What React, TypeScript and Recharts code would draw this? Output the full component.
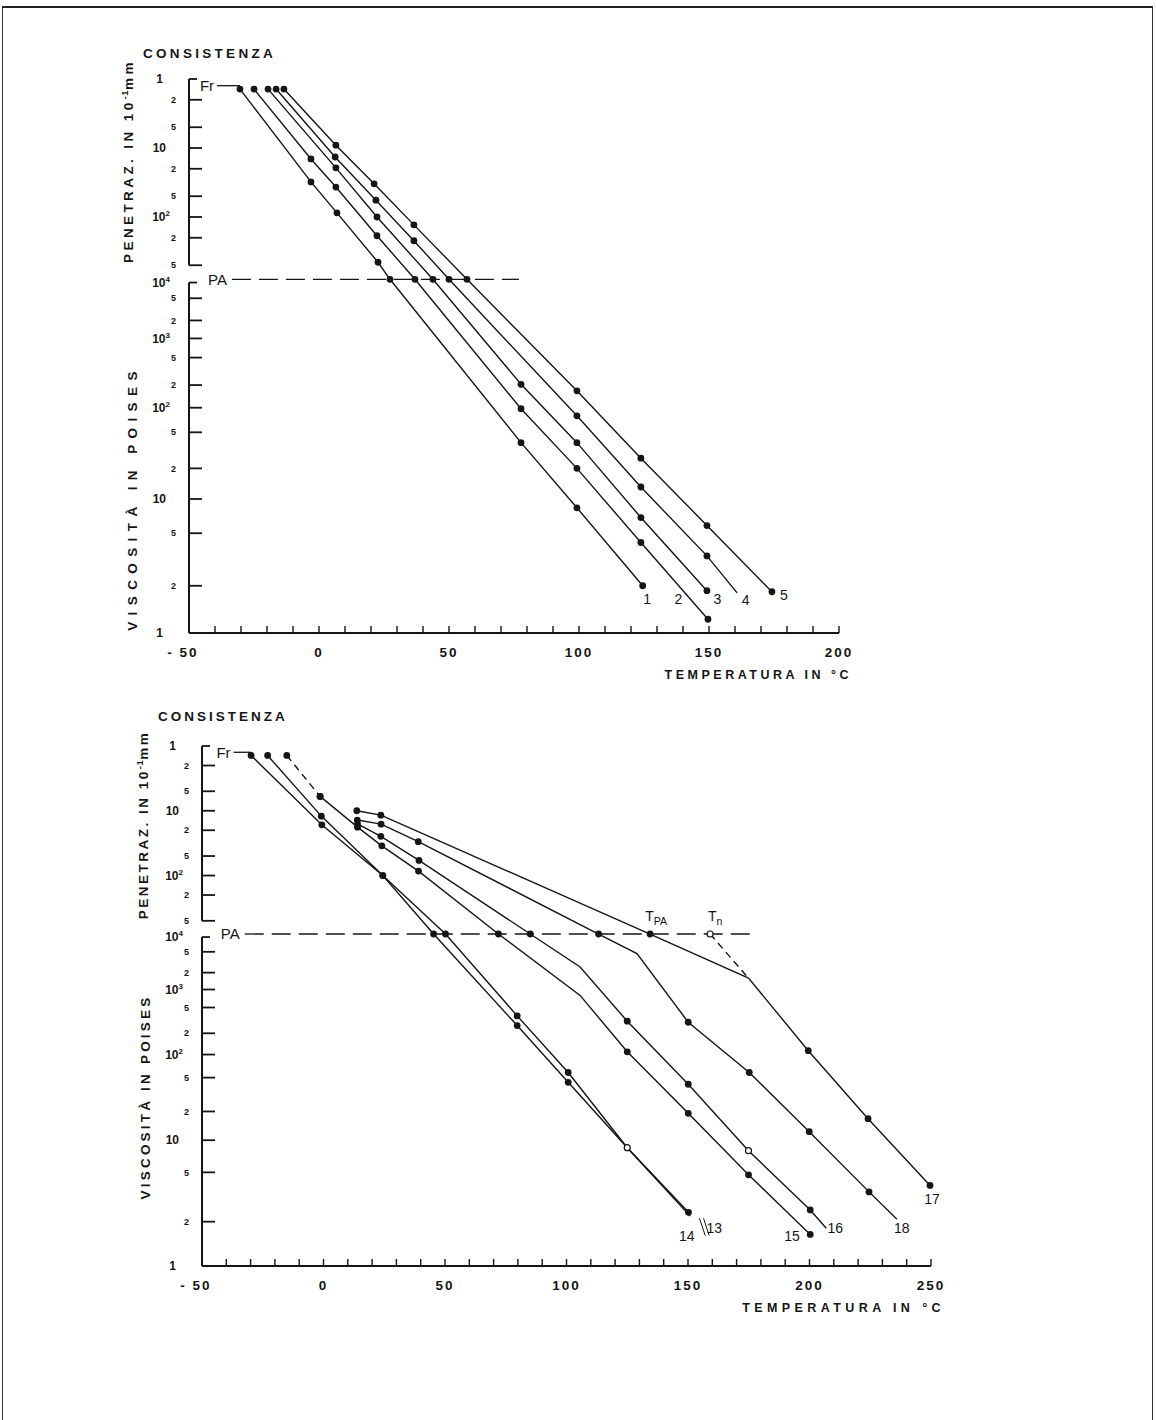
import React from 'react';
import { LineChart, Line, XAxis, YAxis, ReferenceLine, ReferenceDot } from 'recharts';

type Pt = { t: number; pen?: number; visc?: number; mk?: string };
type Ann = { t: number; pen?: number; visc?: number; text: string; sub?: string; size?: number };

// ---------- chart-paper scale: penetration (log) above, viscosity (log-log) below ----------
const U_TOP = 554;
const penToU = (p: number) => U_TOP - 69 * Math.log10(p);
const viscToU = (v: number) => 667 * (Math.log10(Math.log10(v) + 1.7) - Math.log10(1.7));
const toU = (p: { pen?: number; visc?: number }) =>
  p.pen !== undefined ? penToU(p.pen) : viscToU(p.visc as number);

const FR_PEN = 1.25;
const PA_PEN = 800;

const penTickValues = [1, 2, 5, 10, 20, 50, 100, 200, 500];
const penTickLabels = ['1', '2', '5', '10', '2', '5', '10^2', '2', '5'];
const viscTickValues = [1, 2, 5, 10, 20, 50, 100, 200, 500, 1000, 2000, 5000, 10000];
const viscTickLabels = ['1', '2', '5', '10', '2', '5', '10^2', '2', '5', '10^3', '2', '5', '10^4'];

const topXTicks = [-50, -40, -30, -20, -10, 0, 10, 20, 30, 40, 50, 60, 70, 80, 90, 100, 110, 120, 130, 140, 150, 160, 170, 180, 190, 200];
const botXTicks = [...topXTicks, 210, 220, 230, 240, 250];

// ---------- top chart: bitumens 1-5 ----------
const bit1: Pt[] = [
  { t: -30.4, pen: 1.4 }, { t: -3.1, pen: 31 }, { t: 6.9, pen: 87 }, { t: 22.7, pen: 453 }, { t: 27.3, pen: 800 },
  { t: 77.7, visc: 38 }, { t: 99.2, visc: 8.3 }, { t: 124.5, visc: 2.0 },
];
const bit2: Pt[] = [
  { t: -25, pen: 1.4 }, { t: -3.1, pen: 14.4 }, { t: 6.5, pen: 36.8 }, { t: 22.3, pen: 187 }, { t: 36.9, pen: 800 },
  { t: 77.7, visc: 97 }, { t: 99.2, visc: 20 }, { t: 123.8, visc: 4.2 }, { t: 149.6, visc: 1.21 },
];
const bit3: Pt[] = [
  { t: -19.6, pen: 1.4 }, { t: 6.5, pen: 19.4 }, { t: 22.3, pen: 100 }, { t: 43.8, pen: 800 },
  { t: 77.7, visc: 205 }, { t: 99.2, visc: 38 }, { t: 123.8, visc: 6.8 }, { t: 149.2, visc: 1.85 },
];
const bit4: Pt[] = [
  { t: -16.5, pen: 1.4 }, { t: 6.2, pen: 13.5 }, { t: 21.9, pen: 57 }, { t: 36.5, pen: 221 }, { t: 50, pen: 800 },
  { t: 99.2, visc: 79 }, { t: 123.8, visc: 13 }, { t: 149.2, visc: 3.3 }, { t: 160.8, visc: 1.79, mk: '' },
];
const bit5: Pt[] = [
  { t: -13.5, pen: 1.4 }, { t: 6.5, pen: 9.1 }, { t: 21.2, pen: 33 }, { t: 36.5, pen: 130 }, { t: 56.9, pen: 800 },
  { t: 99.2, visc: 167 }, { t: 123.8, visc: 25.6 }, { t: 149.2, visc: 5.8 }, { t: 174.2, visc: 1.82 },
];
const topLabels: Ann[] = [
  { t: 126.2, visc: 1.63, text: '1' }, { t: 138.2, visc: 1.63, text: '2' }, { t: 153.2, visc: 1.63, text: '3' },
  { t: 164.1, visc: 1.6, text: '4' }, { t: 178.8, visc: 1.74, text: '5' },
];

// ---------- bottom chart: bitumens 13-18 ----------
const bit13: Pt[] = [
  { t: -23, pen: 1.4 }, { t: -0.9, pen: 12.1 }, { t: 24.4, pen: 100 }, { t: 50.2, pen: 800 },
  { t: 79.7, visc: 368 }, { t: 100.7, visc: 58 }, { t: 125, visc: 8.45, mk: '' }, { t: 150.9, visc: 2.2, mk: '' },
];
const bit14: Pt[] = [
  { t: -29.8, pen: 1.4 }, { t: -0.7, pen: 16.5 }, { t: 24.4, pen: 100 }, { t: 45.3, pen: 800 },
  { t: 79.7, visc: 261 }, { t: 100.7, visc: 43.7 }, { t: 125, visc: 8.45, mk: 'c' }, { t: 150.2, visc: 2.35 },
];
const bit15Start: Pt[] = [{ t: -15.1, pen: 1.4 }, { t: -1.4, pen: 6.0 }];
const bit15: Pt[] = [
  { t: -1.4, pen: 6.0 }, { t: 14.0, pen: 17.9 }, { t: 24.0, pen: 34.8 }, { t: 39.1, pen: 85.5 }, { t: 72, pen: 800 },
  { t: 105.6, visc: 793, mk: '' }, { t: 125, visc: 109 }, { t: 150.1, visc: 19.1 }, { t: 174.9, visc: 4.76 }, { t: 200.3, visc: 1.62 },
];
const bit16: Pt[] = [
  { t: 14.0, pen: 15.9 }, { t: 23.6, pen: 24.8 }, { t: 39.3, pen: 58.5 }, { t: 85.1, pen: 800 },
  { t: 105.6, visc: 2546, mk: '' }, { t: 125, visc: 304 }, { t: 150.1, visc: 41.4 }, { t: 174.9, visc: 7.9, mk: 'c' },
  { t: 200.3, visc: 2.45 }, { t: 206.9, visc: 1.79, mk: '' },
];
const bit17: Pt[] = [
  { t: 13.7, pen: 10 }, { t: 23.6, pen: 11.7 }, { t: 134.4, pen: 800 }, { t: 174.9, visc: 1586, mk: '' },
  { t: 199.5, visc: 113 }, { t: 224.1, visc: 16.7 }, { t: 249.6, visc: 3.86 },
];
const bit18: Pt[] = [
  { t: 13.9, pen: 13.9 }, { t: 23.7, pen: 16.1 }, { t: 39, pen: 30 }, { t: 113.2, pen: 800 }, { t: 129, visc: 4605, mk: '' },
  { t: 150.1, visc: 293 }, { t: 175.2, visc: 58 }, { t: 199.9, visc: 12.2 }, { t: 224.5, visc: 3.41 }, { t: 236, visc: 2.08, mk: '' },
];
const tnDashed: Pt[] = [{ t: 159.1, pen: 800, mk: 'c' }, { t: 174.9, visc: 1586, mk: '' }];
const botLabels: Ann[] = [
  { t: 149.5, visc: 1.58, text: '14' }, { t: 160.8, visc: 1.81, text: '13' }, { t: 192.8, visc: 1.58, text: '15' },
  { t: 210.6, visc: 1.81, text: '16' }, { t: 238, visc: 1.81, text: '18' }, { t: 250.4, visc: 2.99, text: '17' },
  { t: 136.9, pen: 422, text: 'T', sub: 'PA' }, { t: 161.2, pen: 422, text: 'T', sub: 'n' },
];
const botLeaders: Pt[][] = [
  [{ t: 154.7, visc: 2.12 }, { t: 157.1, visc: 1.59 }],
  [{ t: 156.4, visc: 2.12 }, { t: 158.7, visc: 1.59 }],
];

// ---------- rendering helpers ----------
const FONT = "'Liberation Sans', Arial, 'DejaVu Sans', sans-serif";
const INK = '#151515';

const yTicks = [
  ...viscTickValues.map((v, i) => ({ u: viscToU(v), label: viscTickLabels[i], noLine: i === 0, bracket: i === viscTickValues.length - 1 })),
  ...penTickValues.map((v, i) => ({ u: penToU(v), label: penTickLabels[i], noLine: false, bracket: i === 0 })),
];

const rows = (pts: Pt[]) => pts.map((p) => ({ t: p.t, u: toU(p), mk: p.mk === undefined ? 'o' : p.mk }));

const renderDot = (props: any) => {
  const { cx, cy, payload, index } = props;
  const k = `d${index}-${Math.round(cx)}-${Math.round(cy)}`;
  if (payload.mk === 'o') return <circle key={k} cx={cx} cy={cy} r={3.4} fill={INK} />;
  if (payload.mk === 'c') return <circle key={k} cx={cx} cy={cy} r={3} fill="#fff" stroke={INK} strokeWidth={1.2} />;
  return <g key={k} />;
};

const renderYTick = (props: any) => {
  const { x, y, payload } = props;
  const tk = yTicks.find((t) => Math.abs(t.u - payload.value) < 1e-6);
  if (!tk) return <g />;
  const isPow = tk.label.startsWith('10^');
  const big = tk.label.length > 1;
  const tx = isPow ? x - 19 : big ? x - 23 : tk.label === '1' ? x - 26 : x - 13;
  return (
    <g>
      {!tk.noLine && (
        <line x1={x} x2={x + (tk.bracket ? 8 : 13)} y1={y} y2={y} stroke={INK} strokeWidth={1.8} />
      )}
      <text x={tx} y={y} dy="0.35em" textAnchor="end" fontFamily={FONT} fontWeight={700}
        fontSize={big || tk.label === '1' ? 12 : 9} fill={INK}>
        {isPow ? '10' : tk.label}
        {isPow && (
          <tspan dy={-5} fontSize={8}>
            {tk.label.slice(3)}
          </tspan>
        )}
      </text>
    </g>
  );
};

const makeXTick = (minT: number) => (props: any) => {
  const { x, y, payload } = props;
  const v = payload.value;
  return (
    <g>
      {v !== minT && <line x1={x} x2={x} y1={y} y2={y - 7} stroke={INK} strokeWidth={1.4} />}
      {v % 50 === 0 && (
        <text x={v < 0 ? x - 6 : x} y={y + 19} dy="0.35em" textAnchor="middle" fontFamily={FONT} fontWeight={700}
          fontSize={13.5} letterSpacing={2} fill={INK}>
          {v < 0 ? '- 50' : String(v)}
        </text>
      )}
    </g>
  );
};

type TitleCfg = {
  cons: [number, number]; pen: [number, number]; visc: [number, number];
  consSpacing: number; penSpacing: number; viscSpacing: number; x: [number, number]; xSpacing: number;
};

const makeYTitles = (c: TitleCfg) => (props: any) => {
  const vb = props.viewBox || { x: 0, y: 0 };
  const txt = { fontFamily: FONT, fontWeight: 700, fill: INK } as any;
  return (
    <g>
      <text x={vb.x + c.cons[0]} y={vb.y + c.cons[1]} dy="0.35em" fontSize={13.5} letterSpacing={c.consSpacing} {...txt}>
        CONSISTENZA
      </text>
      <text transform={`translate(${vb.x + c.pen[0]},${vb.y + c.pen[1]}) rotate(-90)`} textAnchor="middle" dy="0.35em"
        fontSize={13.5} letterSpacing={c.penSpacing} {...txt}>
        PENETRAZ. IN 10<tspan dy={-5} fontSize={9.5} letterSpacing={0.5}>-1</tspan><tspan dy={5}>mm</tspan>
      </text>
      <text transform={`translate(${vb.x + c.visc[0]},${vb.y + c.visc[1]}) rotate(-90)`} textAnchor="middle" dy="0.35em"
        fontSize={13.5} letterSpacing={c.viscSpacing} {...txt}>
        VISCOSITÀ IN POISES
      </text>
    </g>
  );
};

const makeXTitle = (c: TitleCfg) => (props: any) => {
  const vb = props.viewBox || { x: 0, y: 0, width: 0 };
  return (
    <text x={vb.x + vb.width + c.x[0]} y={vb.y + c.x[1]} dy="0.35em" textAnchor="end" fontFamily={FONT} fontWeight={700}
      fontSize={12.5} letterSpacing={c.xSpacing} fill={INK}>
      TEMPERATURA IN °C
    </text>
  );
};

const renderAnn = (a: Ann) => (props: any) => {
  const vb = props.viewBox || { x: 0, y: 0, width: 0, height: 0 };
  const cx = vb.x + (vb.width || 0) / 2;
  const cy = vb.y + (vb.height || 0) / 2;
  return (
    <text x={cx} y={cy} dy="0.35em" textAnchor="middle" fontFamily={FONT} fontSize={a.size || 14} fill={INK}>
      {a.text}
      {a.sub && (
        <tspan dy={4} fontSize={10.5}>
          {a.sub}
        </tspan>
      )}
    </text>
  );
};

const refLabel = (text: string, gap: number) => (props: any) => {
  const vb = props.viewBox || { x: 0, y: 0 };
  return (
    <text x={vb.x - gap} y={vb.y} dy="0.35em" textAnchor="end" fontFamily={FONT} fontSize={15} fill={INK}>
      {text}
    </text>
  );
};

type Series = { data: Pt[]; dash?: string };

type ChartProps = {
  width: number; height: number; top: number;
  margin: { top: number; left: number; right: number; bottom: number };
  xMax: number; xTicks: number[];
  series: Series[]; labels: Ann[]; leaders?: Pt[][];
  frSeg: [number, number]; paSeg: [number, number];
  titles: TitleCfg;
};

const ConsistencyChart = (p: ChartProps) => {
  const xMin = -50;
  return (
    <div style={{ position: 'absolute', left: 0, top: p.top }}>
      <LineChart width={p.width} height={p.height} margin={p.margin}>
        <XAxis dataKey="t" type="number" domain={[xMin, p.xMax]} ticks={p.xTicks} interval={0}
          axisLine={{ stroke: INK, strokeWidth: 2 }} tickLine={false} tickSize={0} tickMargin={0} height={50}
          tick={makeXTick(xMin)} label={makeXTitle(p.titles)} />
        <YAxis dataKey="u" type="number" domain={[0, U_TOP]} ticks={yTicks.map((t) => t.u)} interval={0}
          axisLine={false} tickLine={false} tickSize={0} tickMargin={0} width={70}
          tick={renderYTick} label={makeYTitles(p.titles)} />
        {/* broken ordinate: penetration segment and viscosity segment */}
        <ReferenceLine segment={[{ x: xMin, y: U_TOP }, { x: xMin, y: penToU(500) }]} stroke={INK} strokeWidth={2} ifOverflow="visible" />
        <ReferenceLine segment={[{ x: xMin, y: viscToU(10000) }, { x: xMin, y: 0 }]} stroke={INK} strokeWidth={2} ifOverflow="visible" />
        {/* Fraass and ring & ball reference levels */}
        <ReferenceLine segment={[{ x: p.frSeg[0], y: penToU(FR_PEN) }, { x: p.frSeg[1], y: penToU(FR_PEN) }]}
          stroke={INK} strokeWidth={1.3} ifOverflow="visible" label={refLabel('Fr', 3)} />
        <ReferenceLine segment={[{ x: p.paSeg[0], y: penToU(PA_PEN) }, { x: p.paSeg[1], y: penToU(PA_PEN) }]}
          stroke={INK} strokeWidth={1.3} strokeDasharray="19 8" ifOverflow="visible" label={refLabel('PA', 5)} />
        {(p.leaders || []).map((seg, i) => (
          <ReferenceLine key={`ld${i}`} segment={seg.map((q) => ({ x: q.t, y: toU(q) }))} stroke={INK} strokeWidth={1} ifOverflow="visible" />
        ))}
        {p.series.map((s, i) => (
          <Line key={`s${i}`} data={rows(s.data)} dataKey="u" type="linear" stroke={INK} strokeWidth={1.4}
            strokeDasharray={s.dash} dot={renderDot} activeDot={false} isAnimationActive={false} />
        ))}
        {p.labels.map((a, i) => (
          <ReferenceDot key={`a${i}`} x={a.t} y={toU(a)} r={0} fill="none" stroke="none" ifOverflow="visible" label={renderAnn(a)} />
        ))}
      </LineChart>
    </div>
  );
};

export default function App() {
  return (
    <div style={{ position: 'absolute', left: 0, top: 0, width: 1156, height: 1420, background: '#fff', overflow: 'hidden' }}>
      <div style={{ position: 'absolute', left: 2, top: 6, width: 1149, height: 1420, borderTop: '2px solid #222',
        borderLeft: '1.5px solid #333', borderRight: '1.5px solid #333' }} />
      <ConsistencyChart
        width={900} height={720} top={0}
        margin={{ top: 79, left: 119, right: 61, bottom: 37 }}
        xMax={200} xTicks={topXTicks}
        series={[{ data: bit1 }, { data: bit2 }, { data: bit3 }, { data: bit4 }, { data: bit5 }]}
        labels={topLabels}
        frSeg={[-39.2, -30.4]} paSeg={[-33.5, 76.9]}
        titles={{ cons: [24, -26], pen: [9, 82], visc: [13, 419], consSpacing: 3.3, penSpacing: 3.4, viscSpacing: 6.4, x: [13, 42], xSpacing: 3.5 }}
      />
      <ConsistencyChart
        width={1000} height={700} top={700}
        margin={{ top: 46, left: 132, right: 69, bottom: 84 }}
        xMax={250} xTicks={botXTicks}
        series={[
          { data: bit13 }, { data: bit14 }, { data: bit15Start, dash: '7 5' }, { data: bit15 }, { data: bit16 },
          { data: bit17 }, { data: bit18 }, { data: tnDashed, dash: '7 5' },
        ]}
        labels={botLabels}
        leaders={botLeaders}
        frSeg={[-37, -29.8]} paSeg={[-32.4, 175.6]}
        titles={{ cons: [26, -30], pen: [11, 79], visc: [13, 351], consSpacing: 3.0, penSpacing: 2.5, viscSpacing: 3.2, x: [14, 42], xSpacing: 4.4 }}
      />
    </div>
  );
}
